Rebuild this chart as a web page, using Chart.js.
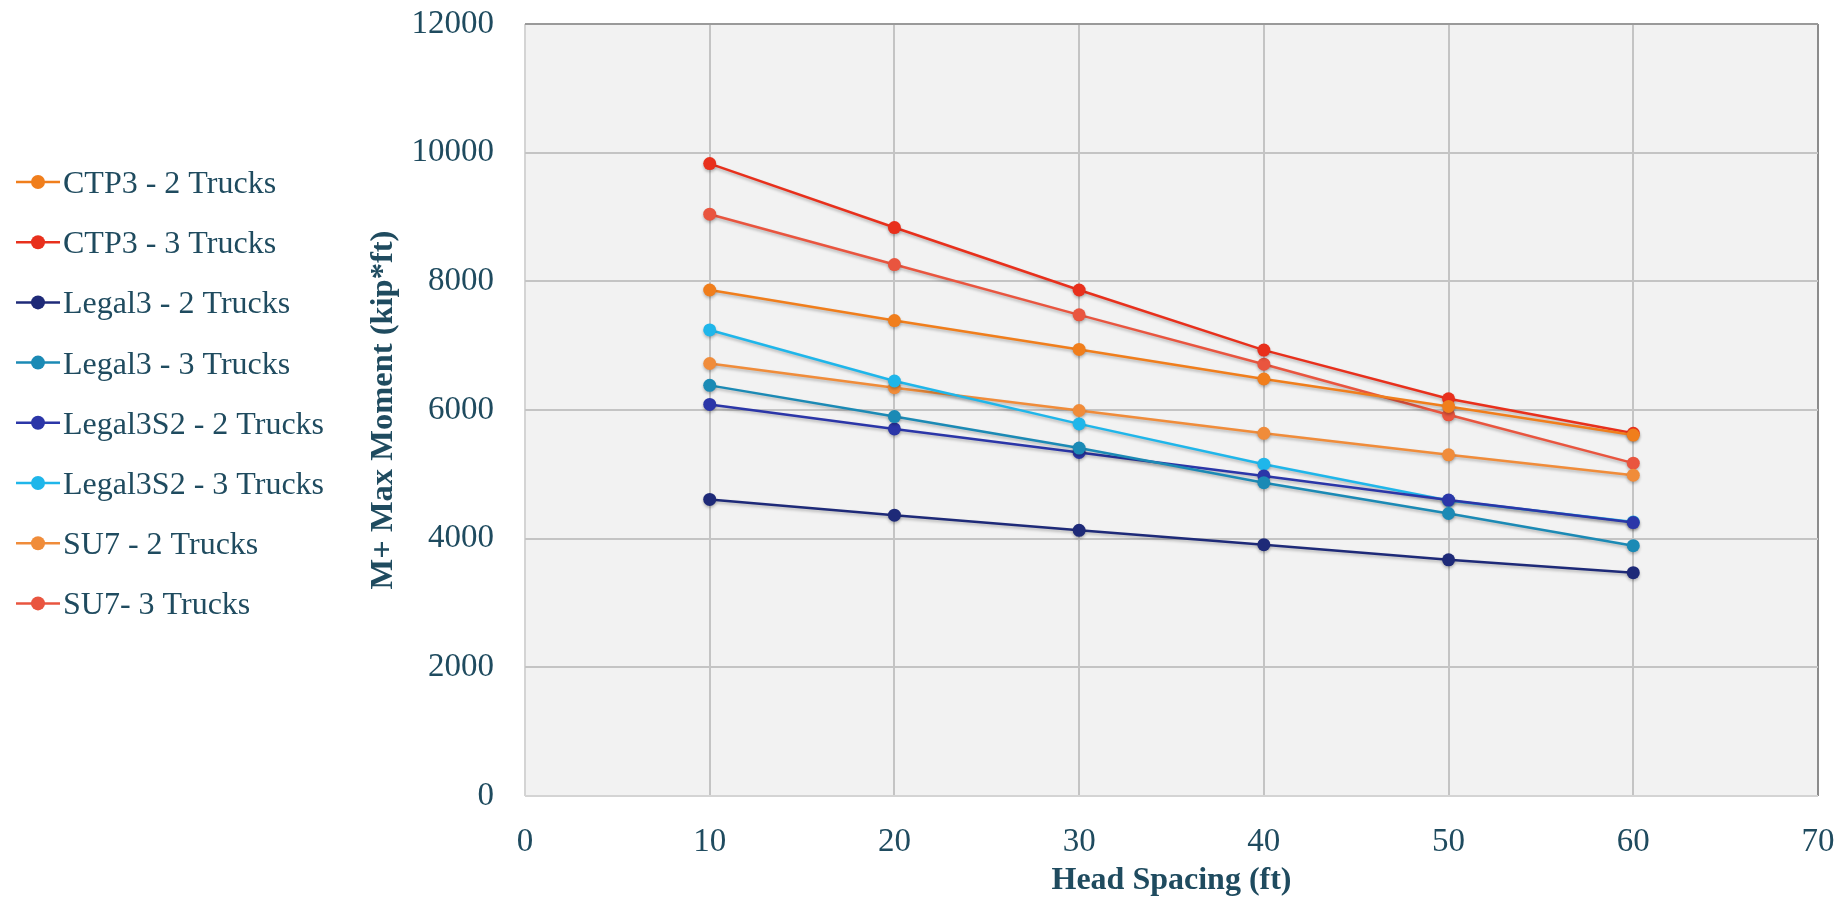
<!DOCTYPE html>
<html>
<head>
<meta charset="utf-8">
<script src="https://cdn.jsdelivr.net/npm/chart.js@4.4.1/dist/chart.umd.min.js"></script>
<style>
	html, body { margin: 0; padding: 0; background: #fff; }
	#wrap { width: 1847px; height: 904px; }
</style>
</head>
<body>
<div id="wrap"><canvas id="chart" width="1847" height="904"></canvas></div>
<script>
// head spacing (ft)
var spacing = [10, 20, 30, 40, 50, 60];

var seriesNames = [
	"CTP3 - 2 Trucks",
	"CTP3 - 3 Trucks",
	"Legal3 - 2 Trucks",
	"Legal3 - 3 Trucks",
	"Legal3S2 - 2 Trucks",
	"Legal3S2 - 3 Trucks",
	"SU7 - 2 Trucks",
	"SU7- 3 Trucks"
];

// M+ max moment (kip*ft)
var ctp3_2 = [7865, 7390, 6942, 6482, 6055, 5610];
var ctp3_3 = [9830, 8836, 7865, 6931, 6175, 5637];
var legal3_2 = [4610, 4365, 4130, 3906, 3671, 3472];
var legal3_3 = [6383, 5898, 5408, 4870, 4391, 3891];
var legal3s2_2 = [6086, 5706, 5340, 4975, 4600, 4250];
var legal3s2_3 = [7244, 6451, 5784, 5158, 4594, 4260];
var su7_2 = [6723, 6347, 5992, 5637, 5303, 4987];
var su7_3 = [9044, 8261, 7479, 6712, 5925, 5174];

var xTicks = [0, 10, 20, 30, 40, 50, 60, 70];
var yTicks = [0, 2000, 4000, 6000, 8000, 10000, 12000];

var colors = ["#F07E1C", "#E8301C", "#1E2A78", "#1B8AB5", "#2B36A8", "#1FB6EA", "#F08C3A", "#E9553F"];
var textColor = "#1F4B5F";
var serif = "'Liberation Serif', 'Times New Roman', serif";

var allSeries = [ctp3_2, ctp3_3, legal3_2, legal3_3, legal3s2_2, legal3s2_3, su7_2, su7_3];

var datasets = [];
for (var i = 0; i < allSeries.length; i++) {
	var pts = [];
	for (var j = 0; j < spacing.length; j++) {
		pts.push({x: spacing[j], y: allSeries[i][j]});
	}
	datasets.push({
		label: seriesNames[i],
		data: pts,
		borderColor: colors[i],
		backgroundColor: colors[i],
		pointBackgroundColor: colors[i],
		pointBorderColor: colors[i],
		borderWidth: 2.5,
		pointRadius: 6.5,
		pointBorderWidth: 0,
		tension: 0
	});
}

var plotBg = {
	id: 'plotBg',
	beforeDraw: function(chart) {
		var a = chart.chartArea, ctx = chart.ctx;
		ctx.save();
		ctx.fillStyle = "#F2F2F2";
		ctx.fillRect(a.left, a.top, a.right - a.left, a.bottom - a.top);
		ctx.restore();
	},
	beforeDatasetsDraw: function(chart) {
		var ctx = chart.ctx;
		ctx.save();
		ctx.shadowColor = "rgba(0,0,0,0.25)";
		ctx.shadowBlur = 3;
		ctx.shadowOffsetY = 2;
	},
	afterDatasetsDraw: function(chart) {
		chart.ctx.restore();
	}
};

// legend on the left, drawn by hand so the rows land where they should
var sideLegend = {
	id: 'sideLegend',
	afterDraw: function(chart) {
		var ctx = chart.ctx;
		ctx.save();
		ctx.font = "32px " + serif;
		ctx.textBaseline = "alphabetic";
		ctx.textAlign = "left";
		for (var i = 0; i < chart.data.datasets.length; i++) {
			var ds = chart.data.datasets[i];
			var y = 182 + i * 60.2;
			ctx.strokeStyle = ds.borderColor;
			ctx.lineWidth = 2.5;
			ctx.beginPath();
			ctx.moveTo(16, y);
			ctx.lineTo(60, y);
			ctx.stroke();
			ctx.fillStyle = ds.borderColor;
			ctx.beginPath();
			ctx.arc(38, y, 7, 0, Math.PI * 2);
			ctx.fill();
			ctx.fillStyle = textColor;
			ctx.fillText(ds.label, 63, y + 11);
		}
		ctx.restore();
	}
};

new Chart(document.getElementById('chart'), {
	type: 'line',
	data: { datasets: datasets },
	plugins: [plotBg, sideLegend],
	options: {
		responsive: false,
		animation: false,
		layout: { padding: { top: 24, right: 29, left: 0, bottom: 0 } },
		plugins: {
			legend: { display: false },
			tooltip: { enabled: false }
		},
		scales: {
			x: {
				type: 'linear',
				min: 0,
				max: 70,
				afterBuildTicks: function(s) { s.ticks = xTicks.map(function(v) { return {value: v}; }); },
				afterFit: function(s) { s.height = 108; s.paddingLeft = 0; s.paddingRight = 0; },
				border: { display: false },
				grid: {
					drawTicks: false,
					lineWidth: 2,
					color: function(c) {
						if (c.tick && c.tick.value === 0) return "#D4D4D4";
						if (c.tick && c.tick.value === 70) return "#8C8C8C";
						return "#C4C4C4";
					}
				},
				ticks: {
					padding: 27,
					color: textColor,
					font: { family: serif, size: 33 },
					callback: function(v) { return String(v); }
				},
				title: {
					display: true,
					text: "Head Spacing (ft)",
					color: textColor,
					font: { family: serif, size: 32, weight: 'bold' },
					padding: { top: 0, bottom: 4 }
				}
			},
			y: {
				min: 0,
				max: 12000,
				afterBuildTicks: function(s) { s.ticks = yTicks.map(function(v) { return {value: v}; }); },
				afterFit: function(s) { s.width = 525; s.paddingTop = 0; s.paddingBottom = 0; },
				border: { display: false },
				grid: {
					drawTicks: false,
					lineWidth: 2,
					color: function(c) {
						if (c.tick && c.tick.value === 0) return "#D4D4D4";
						if (c.tick && c.tick.value === 12000) return "#9A9A9A";
						return "#C4C4C4";
					}
				},
				ticks: {
					padding: 31,
					color: textColor,
					font: { family: serif, size: 33 },
					callback: function(v) { return String(v); }
				},
				title: {
					display: true,
					text: "M+ Max Moment (kip*ft)",
					color: textColor,
					font: { family: serif, size: 32.5, weight: 'bold' },
					padding: { top: 364, bottom: 0 }
				}
			}
		}
	}
});
</script>
</body>
</html>
